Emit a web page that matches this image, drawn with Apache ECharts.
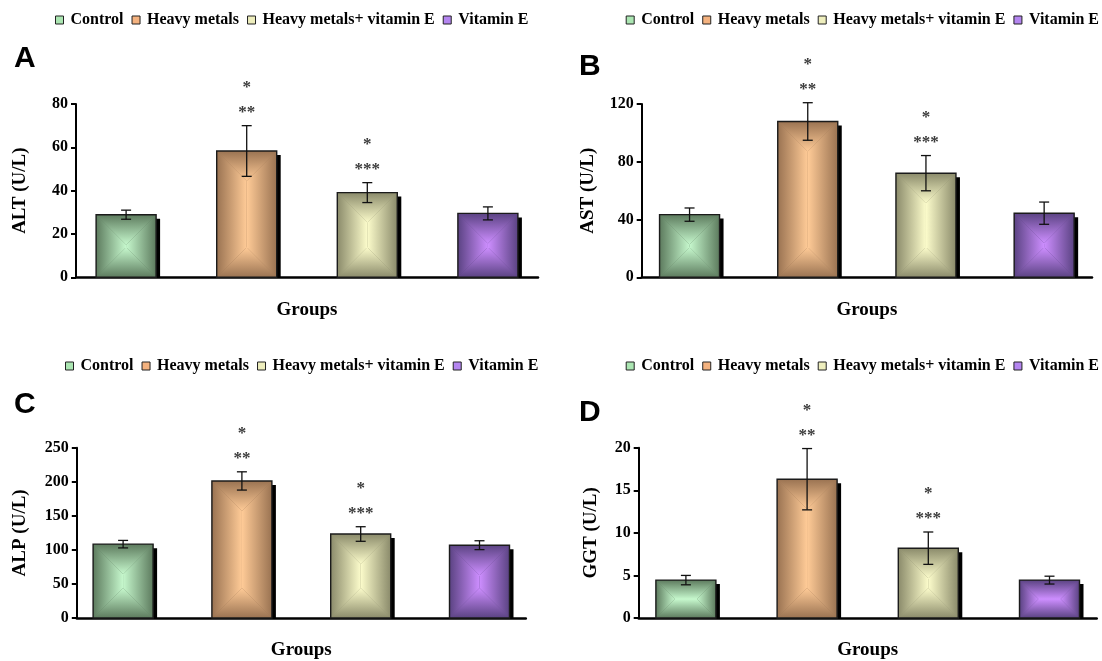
<!DOCTYPE html>
<html>
<head>
<meta charset="utf-8">
<title>Liver enzymes</title>
<script src="https://cdn.jsdelivr.net/npm/echarts@6/dist/echarts.min.js"></script>
<style>
  html, body { margin: 0; padding: 0; background: #fff; }
  #chart { width: 1102px; height: 661px; }
</style>
</head>
<body>
<div id="chart"></div>
<script>
// groups (one bar per group, single "Groups" category)
var groups = ["Control", "Heavy metals", "Heavy metals+ vitamin E", "Vitamin E"];

// mean and error (U/L)
var altMean = [28.9, 58.3, 39.1, 29.5];
var altErr = [2.1, 11.7, 4.6, 3.0];
var astMean = [43.4, 107.9, 72.1, 44.4];
var astErr = [4.6, 13.0, 12.2, 7.7];
var alpMean = [108.4, 201.2, 123.3, 106.9];
var alpErr = [5.5, 13.4, 10.7, 6.5];
var ggtMean = [4.45, 16.3, 8.2, 4.45];
var ggtErr = [0.55, 3.6, 1.9, 0.46];

// significance marks above the error bars
var marksUpper = ["", "*", "*", ""];
var marksLower = ["", "**", "***", ""];

var panelLetters = ["A", "B", "C", "D"];
var axisNames = ["ALT (U/L)", "AST (U/L)", "ALP (U/L)", "GGT (U/L)"];
var axisMax = [80, 120, 250, 20];
var axisStep = [20, 40, 50, 5];

// [edge, centre] of the bar shading, and legend swatch colours
var shade = [
  ["#5d7b5e", "#c6f8cd"],
  ["#9a7352", "#ffcb97"],
  ["#8b8b6b", "#fcfccb"],
  ["#5b4383", "#cd8eff"]
];
var swatch = ["#abe6b2", "#f4b27f", "#eeeebd", "#b485f0"];

var panels = [
  { mean: altMean, err: altErr, grid: { left: 76, top: 104, width: 462, height: 173.3 }, gap: "101%", nameGap: 46, legend: { left: 55, top: 12 }, title: { left: 14, top: 44 } },
  { mean: astMean, err: astErr, grid: { left: 641.7, top: 104, width: 450.3, height: 173.3 }, gap: "97%", nameGap: 44, legend: { right: 3, top: 12 }, title: { left: 579, top: 52 } },
  { mean: alpMean, err: alpErr, grid: { left: 76.8, top: 447.7, width: 449, height: 172.3 }, gap: "98%", nameGap: 47, legend: { left: 65, top: 358 }, title: { left: 14, top: 390 } },
  { mean: ggtMean, err: ggtErr, grid: { left: 638.7, top: 447.7, width: 458, height: 172.3 }, gap: "102%", nameGap: 38, legend: { right: 3, top: 358 }, title: { left: 579, top: 398 } }
];

var serif = "Liberation Serif";

function lin(x, y, x2, y2, from, to) {
  return new echarts.graphic.LinearGradient(x, y, x2, y2, [
    { offset: 0, color: from },
    { offset: 1, color: to }
  ]);
}

function makeRender(i, gap) {
  return function (params, api) {
    var lay = api.barLayout({ barWidth: 60, barGap: gap, count: 4 })[i];
    var mean = api.value(1);
    var err = api.value(2);
    var top = api.coord([0, mean]);
    var base = api.coord([0, 0]);
    var cx = top[0] + lay.offsetCenter;
    var w = lay.width;
    var x0 = cx - w / 2, x1 = cx + w / 2;
    var y0 = top[1], y1 = base[1];
    var d = Math.min(w, y1 - y0) / 2;
    var eTop = api.coord([0, mean + err])[1];
    var eBot = api.coord([0, mean - err])[1];
    var edge = shade[i][0], mid = shade[i][1];
    var markFont = "bold 17px '" + serif + "'";

    var kids = [
      // drop shadow
      { type: "rect", shape: { x: x0 + 4, y: y0 + 4, width: w, height: Math.max(0, y1 - y0 - 4) }, style: { fill: "#000" } },
      { type: "rect", shape: { x: x0, y: y0, width: w, height: y1 - y0 }, style: { fill: edge } },
      { type: "polygon", shape: { points: [[x0, y0], [x1, y0], [x1 - d, y0 + d], [x0 + d, y0 + d]] }, style: { fill: lin(0, 0, 0, 1, edge, mid) } },
      { type: "polygon", shape: { points: [[x0, y1], [x1, y1], [x1 - d, y1 - d], [x0 + d, y1 - d]] }, style: { fill: lin(0, 1, 0, 0, edge, mid) } },
      { type: "polygon", shape: { points: [[x0, y0], [x0 + d, y0 + d], [x0 + d, y1 - d], [x0, y1]] }, style: { fill: lin(0, 0, 1, 0, edge, mid) } },
      { type: "polygon", shape: { points: [[x1, y0], [x1 - d, y0 + d], [x1 - d, y1 - d], [x1, y1]] }, style: { fill: lin(1, 0, 0, 0, edge, mid) } },
      { type: "rect", shape: { x: x0, y: y0, width: w, height: y1 - y0 }, style: { fill: null, stroke: "#1b1b1b", lineWidth: 1.4 } },
      // error bar
      { type: "line", shape: { x1: cx, y1: eTop, x2: cx, y2: eBot }, style: { stroke: "#111", lineWidth: 1.3 } },
      { type: "line", shape: { x1: cx - 5, y1: eTop, x2: cx + 5, y2: eTop }, style: { stroke: "#111", lineWidth: 1.3 } },
      { type: "line", shape: { x1: cx - 5, y1: eBot, x2: cx + 5, y2: eBot }, style: { stroke: "#111", lineWidth: 1.3 } }
    ];
    if (marksLower[i]) {
      kids.push({ type: "text", style: { text: marksLower[i], x: cx, y: eTop - 13, align: "center", verticalAlign: "middle", font: markFont, fill: "#3a3a3a" } });
      kids.push({ type: "text", style: { text: marksUpper[i], x: cx, y: eTop - 38, align: "center", verticalAlign: "middle", font: markFont, fill: "#3a3a3a" } });
    }
    return { type: "group", children: kids };
  };
}

var legendData = groups.map(function (g, i) {
  return { name: g, itemStyle: { color: swatch[i], borderColor: "#222", borderWidth: 1 } };
});

var option = {
  animation: false,
  backgroundColor: "#fff",
  title: [],
  legend: [],
  grid: [],
  xAxis: [],
  yAxis: [],
  series: []
};

panels.forEach(function (p, k) {
  option.title.push({
    text: panelLetters[k], left: p.title.left, top: p.title.top, padding: 0,
    textStyle: { fontFamily: "Liberation Sans", fontWeight: "bold", fontSize: 30, color: "#000" }
  });
  option.legend.push(Object.assign({
    padding: 0, width: 520, orient: "horizontal",
    icon: "rect", itemWidth: 8, itemHeight: 8, itemGap: 8, selectedMode: false,
    textStyle: { fontFamily: serif, fontWeight: "bold", fontSize: 16, color: "#000", padding: [0, 0, 0, 2] },
    data: legendData
  }, p.legend));
  option.grid.push(Object.assign({ containLabel: false }, p.grid));
  option.xAxis.push({
    type: "category", gridIndex: k, data: ["Groups"],
    axisLabel: { show: false }, axisTick: { show: false },
    axisLine: { lineStyle: { color: "#000", width: 2.5 } },
    name: "Groups", nameLocation: "middle", nameGap: 23,
    nameTextStyle: { fontFamily: serif, fontWeight: "bold", fontSize: 19, color: "#000" }
  });
  option.yAxis.push({
    type: "value", gridIndex: k, min: 0, max: axisMax[k], interval: axisStep[k],
    splitLine: { show: false },
    axisLine: { show: true, lineStyle: { color: "#000", width: 2 } },
    axisTick: { show: true, inside: false, length: 5, lineStyle: { color: "#000", width: 2 } },
    axisLabel: { fontFamily: serif, fontWeight: "bold", fontSize: 16, color: "#000", margin: 8 },
    name: axisNames[k], nameLocation: "middle", nameGap: p.nameGap,
    nameTextStyle: { fontFamily: serif, fontWeight: "bold", fontSize: 19, color: "#000" }
  });
  groups.forEach(function (g, i) {
    option.series.push({
      type: "custom", name: g, xAxisIndex: k, yAxisIndex: k,
      itemStyle: { color: swatch[i] },
      encode: { x: 0, y: 1 },
      renderItem: makeRender(i, p.gap),
      data: [[0, p.mean[i], p.err[i]]]
    });
  });
});

var myChart = echarts.init(document.getElementById("chart"));
myChart.setOption(option);
window.onresize = function () {
  myChart.resize();
};
</script>
</body>
</html>
